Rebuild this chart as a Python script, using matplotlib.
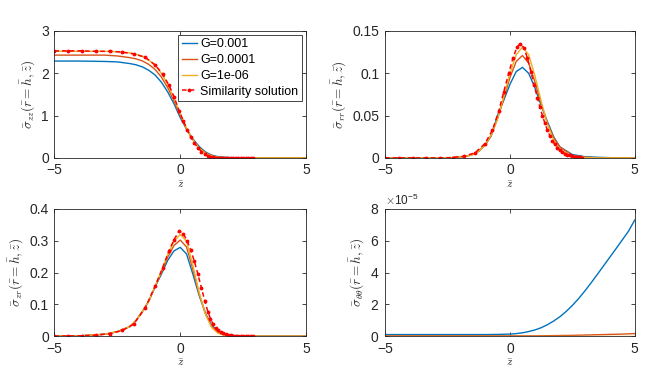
import numpy as np
import matplotlib.pyplot as plt
from matplotlib.ticker import ScalarFormatter

plt.rcParams['font.family'] = ['Liberation Sans', 'DejaVu Sans']
plt.rcParams['mathtext.fontset'] = 'cm'

# z grid of the numerical (G) solutions
z = [-5, -4, -3, -2.5, -2, -1.75, -1.5, -1.25, -1, -0.75, -0.5, -0.25, 0,
     0.25, 0.5, 0.75, 1, 1.25, 1.5, 1.75, 2, 2.5, 3, 3.5, 4, 4.5, 5]
# finer grid for the hoop stress panel
z_tt = [-5, -4, -3, -2, -1, -0.5, 0, 0.25, 0.5, 0.75, 1, 1.25, 1.5, 1.75, 2, 2.25,
        2.5, 2.75, 3, 3.25, 3.5, 3.75, 4, 4.25, 4.5, 4.75, 5]
# z points of the similarity solution
z_sim = [-5, -4.45, -3.9, -3.35, -2.8, -2.3, -1.85, -1.4, -1.0, -0.7, -0.45, -0.25,
         -0.05, 0.12, 0.28, 0.42, 0.56, 0.7, 0.84, 0.97, 1.1, 1.2, 1.3, 1.4, 1.5,
         1.6, 1.7, 1.8, 1.9, 2.0, 2.1, 2.2, 2.3, 2.4, 2.5, 2.6, 2.7, 2.8, 2.9]

labels = ['G=0.001', 'G=0.0001', 'G=1e-06', 'Similarity solution']

# sigma_zz
szz_g1 = [2.29, 2.29, 2.28, 2.27, 2.23, 2.20, 2.15, 2.07, 1.96, 1.79, 1.56, 1.28, 0.95,
          0.68, 0.45, 0.27, 0.14, 0.065, 0.03, 0.015, 0.008, 0.002, 0, 0, 0, 0, 0]
szz_g2 = [2.43, 2.43, 2.43, 2.41, 2.37, 2.34, 2.29, 2.21, 2.09, 1.91, 1.66, 1.35, 1.0,
          0.68, 0.43, 0.24, 0.12, 0.05, 0.02, 0.01, 0.003, 0, 0, 0, 0, 0, 0]
szz_g3 = [2.52, 2.52, 2.52, 2.51, 2.48, 2.45, 2.40, 2.31, 2.19, 2.0, 1.74, 1.41, 1.04,
          0.70, 0.43, 0.23, 0.11, 0.045, 0.015, 0.005, 0.001, 0, 0, 0, 0, 0, 0]
szz_sim = [2.53, 2.53, 2.53, 2.52, 2.52, 2.50, 2.46, 2.38, 2.20, 1.98, 1.72, 1.45, 1.12,
           0.88, 0.66, 0.49, 0.35, 0.24, 0.15, 0.09, 0.05, 0.03, 0.02, 0.01, 0.005,
           0.002, 0.001, 0, 0, 0, 0, 0, 0, 0, 0, 0, 0, 0, 0]

# sigma_rr
srr_g1 = [0, 0, 0, 0, 0.001, 0.002, 0.004, 0.008, 0.015, 0.026, 0.050, 0.068, 0.087,
          0.102, 0.107, 0.100, 0.083, 0.062, 0.043, 0.025, 0.013, 0.004, 0.0015, 0.0008,
          0.0003, 0.0001, 0]
srr_g2 = [0, 0, 0, 0, 0.001, 0.002, 0.004, 0.008, 0.015, 0.027, 0.046, 0.070, 0.095,
          0.114, 0.121, 0.112, 0.090, 0.064, 0.041, 0.024, 0.013, 0.003, 0.001, 0, 0, 0, 0]
srr_g3 = [0, 0, 0, 0, 0.001, 0.002, 0.004, 0.008, 0.015, 0.027, 0.046, 0.072, 0.100,
          0.122, 0.131, 0.122, 0.097, 0.067, 0.040, 0.021, 0.010, 0.002, 0.0005, 0, 0, 0, 0]
srr_sim = [0, 0, 0, 0, 0, 0.0005, 0.002, 0.006, 0.017, 0.033, 0.055, 0.078, 0.100,
           0.118, 0.131, 0.135, 0.130, 0.118, 0.102, 0.086, 0.071, 0.060, 0.050, 0.041,
           0.033, 0.026, 0.020, 0.016, 0.012, 0.009, 0.007, 0.005, 0.004, 0.003, 0.002,
           0.0015, 0.001, 0.0007, 0.0005]

# sigma_zr
szr_g1 = [0, 0.001, 0.006, 0.014, 0.030, 0.050, 0.078, 0.110, 0.155, 0.195, 0.238, 0.268,
          0.279, 0.258, 0.195, 0.128, 0.072, 0.034, 0.016, 0.008, 0.003, 0.0005, 0, 0, 0, 0, 0]
szr_g2 = [0, 0.001, 0.006, 0.014, 0.030, 0.050, 0.078, 0.110, 0.156, 0.200, 0.248, 0.285,
          0.302, 0.280, 0.210, 0.133, 0.070, 0.030, 0.012, 0.004, 0.0015, 0, 0, 0, 0, 0, 0]
szr_g3 = [0, 0.001, 0.006, 0.014, 0.030, 0.050, 0.078, 0.110, 0.157, 0.204, 0.256, 0.298,
          0.320, 0.298, 0.222, 0.137, 0.069, 0.027, 0.009, 0.003, 0.001, 0, 0, 0, 0, 0, 0]
szr_sim = [0, 0.0005, 0.001, 0.003, 0.008, 0.018, 0.038, 0.088, 0.157, 0.215, 0.268, 0.303,
           0.330, 0.322, 0.298, 0.270, 0.235, 0.195, 0.152, 0.112, 0.076, 0.055, 0.038,
           0.026, 0.018, 0.012, 0.009, 0.006, 0.004, 0.003, 0.002, 0.0015, 0.001,
           0.0005, 0.0005, 0, 0, 0, 0]

# sigma_thetatheta on z_tt, in units of 1e-5
stt_g1 = [0.10, 0.10, 0.10, 0.10, 0.10, 0.11, 0.13, 0.16, 0.21, 0.29, 0.39, 0.53, 0.72,
          0.95, 1.22, 1.55, 1.93, 2.36, 2.84, 3.35, 3.88, 4.42, 4.96, 5.5, 6.05, 6.6, 7.3]
stt_g2 = [0.02, 0.02, 0.02, 0.02, 0.02, 0.02, 0.02, 0.02, 0.02, 0.02, 0.02, 0.025, 0.03,
          0.035, 0.04, 0.045, 0.05, 0.06, 0.07, 0.08, 0.09, 0.10, 0.11, 0.12, 0.13, 0.145, 0.16]
stt_g3 = [0] * len(z_tt)

colors = ['#0072BD', '#D95319', '#EDB120']
axcol = '#262626'

fig = plt.figure(figsize=(6.64, 3.69), dpi=100)
pos = [[0.082, 0.572, 0.379, 0.344], [0.580, 0.572, 0.376, 0.344],
       [0.082, 0.089, 0.379, 0.345], [0.580, 0.089, 0.376, 0.345]]
axes = [fig.add_axes(p) for p in pos]

panels = [
    (z, szz_g1, szz_g2, szz_g3, szz_sim, r'$\bar{\sigma}_{zz}(\bar{r}=\bar{h},\bar{z})$', [0, 1, 2, 3], 3),
    (z, srr_g1, srr_g2, srr_g3, srr_sim, r'$\bar{\sigma}_{rr}(\bar{r}=\bar{h},\bar{z})$', [0, 0.05, 0.1, 0.15], 0.15),
    (z, szr_g1, szr_g2, szr_g3, szr_sim, r'$\bar{\sigma}_{zr}(\bar{r}=\bar{h},\bar{z})$', [0, 0.1, 0.2, 0.3, 0.4], 0.4),
    (z_tt, stt_g1, stt_g2, stt_g3, None, r'$\bar{\sigma}_{\theta\theta}(\bar{r}=\bar{h},\bar{z})$', [0, 2, 4, 6, 8], 8),
]

for i, (ax, (zz, g1, g2, g3, sim, ylab, yt, ymax)) in enumerate(zip(axes, panels)):
    scale = 1e-5 if i == 3 else 1.0
    for vals, c, lab in zip([g1, g2, g3], colors, labels):
        ax.plot(zz, np.array(vals) * scale, color=c, lw=1.0, label=lab)
    if sim is not None:
        ax.plot(z_sim, sim, 'r--', marker='.', ms=3.5, lw=1.1, dashes=(3, 2),
                label=labels[3])
    ax.set_xlim(-5, 5)
    ax.set_ylim(0, ymax * scale)
    ax.set_xticks([-5, 0, 5])
    ax.set_yticks(np.array(yt) * scale)
    if i == 3:
        fmt = ScalarFormatter(useMathText=True)
        fmt.set_powerlimits((0, 0))
        ax.yaxis.set_major_formatter(fmt)
        ax.yaxis.get_offset_text().set_fontsize(8.5)
        ax.yaxis.get_offset_text().set_color(axcol)
    else:
        ax.set_yticklabels([('%g' % v) for v in yt])
    ax.tick_params(direction='in', top=True, right=True, length=3, width=0.6,
                   labelsize=10, colors=axcol)
    ax.tick_params(axis='x', pad=4)
    ax.tick_params(axis='y', pad=4)
    for s in ax.spines.values():
        s.set_color(axcol)
        s.set_linewidth(0.6)
    ax.set_ylabel(ylab, fontsize=9.5, color=axcol, labelpad=3)
    ax.set_xlabel(r'$\bar{z}$', fontsize=8, color=axcol, labelpad=1)

leg = axes[0].legend(loc='upper right', fontsize=9, fancybox=False, framealpha=1,
                     borderpad=0.3, labelspacing=0.3, handlelength=1.2,
                     handletextpad=0.3, borderaxespad=0.3)
leg.get_frame().set_edgecolor(axcol)
leg.get_frame().set_linewidth(0.6)

fig.savefig('out.png', dpi=100)
